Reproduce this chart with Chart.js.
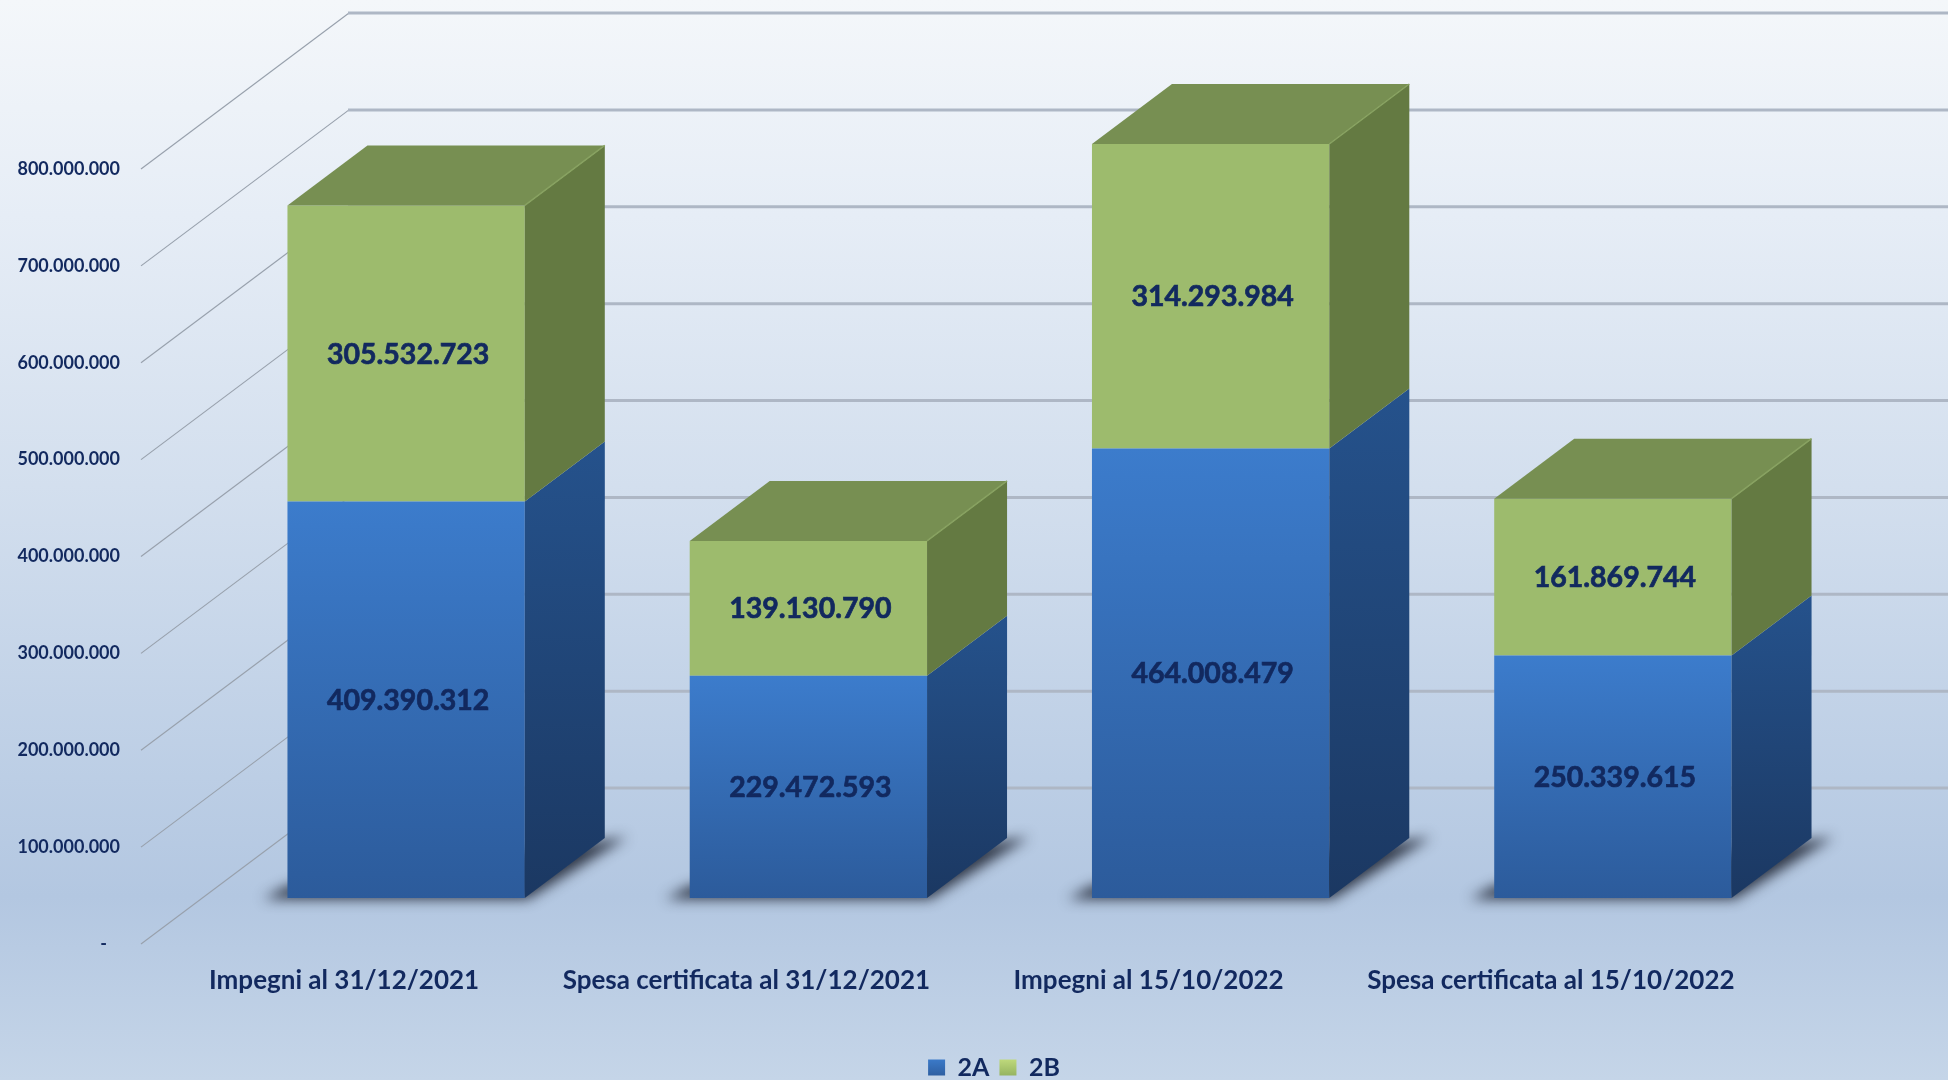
<!DOCTYPE html>
<html>
<head>
<meta charset="utf-8">
<title>Impegni e spesa certificata</title>
<script src="https://cdn.jsdelivr.net/npm/chart.js@4"></script>
<style>
html, body { margin: 0; padding: 0; width: 1948px; height: 1080px; overflow: hidden; }
body { background: linear-gradient(180deg, #f4f7fa 0%, #e6edf6 20%, #d3dfee 45%, #bccee5 72%, #b3c7e1 83%, #c5d5e8 100%); }
canvas { display: block; }
</style>
</head>
<body>
<canvas id="chart" width="1948" height="1080"></canvas>
<script>
const categories = ["Impegni al 31/12/2021", "Spesa certificata al 31/12/2021", "Impegni al 15/10/2022", "Spesa certificata al 15/10/2022"];
const series2A = [409390312, 229472593, 464008479, 250339615];
const series2B = [305532723, 139130790, 314293984, 161869744];
const seriesNames = ["2A", "2B"];
const axisMax = 800000000;
const axisStep = 100000000;

const navy = "#12295f";
const font = "Lato, Carlito, sans-serif";

// fake 3d: wall depth for the grid, bar depth and where the bars stand on the floor
const wallDepth = { x: 206, y: 156 };
const barDepth = { x: 80, y: 60 };
const barShift = { x: 62, y: -46 };

function dotted(v) {
    return String(Math.round(v)).replace(/\B(?=(\d{3})+$)/g, ".");
}

function verticalGradient(c, y0, y1, top, bottom) {
    let g = c.createLinearGradient(0, y0, 0, y1);
    g.addColorStop(0, top);
    g.addColorStop(1, bottom);
    return g;
}

function blueFront(context) {
    let chart = context.chart;
    if (!chart.chartArea || context.dataIndex === undefined) return "#3a78c8";
    let y = chart.scales.y;
    return verticalGradient(chart.ctx, y.getPixelForValue(series2A[context.dataIndex]), y.getPixelForValue(0), "#3c7ccc", "#2c5b9b");
}

function parallelogram(c, x0, y0, x1, y1, x2, y2, x3, y3, fill) {
    c.beginPath();
    c.moveTo(x0, y0);
    c.lineTo(x1, y1);
    c.lineTo(x2, y2);
    c.lineTo(x3, y3);
    c.closePath();
    c.fillStyle = fill;
    c.fill();
}

const wallPlugin = {
    id: "wall",
    afterLayout(chart) {
        // legend sits right of the page centre in the original
        chart.legend.left = 40;
        chart.legend.right = 1948;
        chart.legend.top += 10;
        chart.legend.bottom += 10;
    },
    beforeDatasetsDraw(chart) {
        let c = chart.ctx;
        let y = chart.scales.y;
        let left = chart.chartArea.left;
        c.save();
        y.ticks.forEach(function (t) {
            let py = y.getPixelForValue(t.value);
            c.strokeStyle = "#98a1ad";
            c.lineWidth = 1.2;
            c.beginPath();
            c.moveTo(left - 2, py);
            c.lineTo(left + wallDepth.x, py - wallDepth.y);
            c.stroke();
            c.strokeStyle = "#aeb7c5";
            c.lineWidth = 3;
            c.beginPath();
            c.moveTo(left + wallDepth.x - 1, py - wallDepth.y);
            c.lineTo(chart.width, py - wallDepth.y);
            c.stroke();
        });
        c.restore();

        // floor shadow: shape kept off canvas so only its blur lands on the floor
        c.save();
        c.translate(barShift.x - 3000, barShift.y);
        c.shadowColor = "rgba(25,30,45,0.85)";
        c.shadowBlur = 13;
        c.shadowOffsetX = 3000;
        chart.getDatasetMeta(0).data.forEach(function (bar) {
            let l = bar.x - bar.width / 2;
            let r = bar.x + bar.width / 2;
            let b = bar.base;
            parallelogram(c, l - 24, b + 1, r + 3, b + 1, r + barDepth.x + 22, b - barDepth.y - 1, l, b - 12, "#000");
        });
        c.restore();

        c.save();
        c.translate(barShift.x, barShift.y);
    },
    afterDatasetsDraw(chart) {
        let c = chart.ctx;
        let blue = chart.getDatasetMeta(0).data;
        let green = chart.getDatasetMeta(1).data;
        blue.forEach(function (a, i) {
            let b = green[i];
            let r = a.x + a.width / 2;
            let l = a.x - a.width / 2;
            let dx = barDepth.x;
            let dy = barDepth.y;
            parallelogram(c, r, a.base, r, a.y, r + dx, a.y - dy, r + dx, a.base - dy,
                verticalGradient(c, a.y - dy, a.base, "#25528c", "#1b3862"));
            parallelogram(c, r, a.y, r, b.y, r + dx, b.y - dy, r + dx, a.y - dy, "#647a42");
            parallelogram(c, l, b.y, r, b.y, r + dx, b.y - dy, l + dx, b.y - dy, "#778f52");
            c.strokeStyle = "#88a261";
            c.lineWidth = 1.5;
            c.beginPath();
            c.moveTo(r, b.y);
            c.lineTo(r + dx, b.y - dy);
            c.stroke();

            c.fillStyle = navy;
            c.strokeStyle = navy;
            c.lineWidth = 0.7;
            c.font = "bold 28.5px " + font;
            c.textAlign = "center";
            c.textBaseline = "middle";
            c.fillText(dotted(series2A[i]), a.x + 2, (a.y + a.base) / 2 + 1);
            c.strokeText(dotted(series2A[i]), a.x + 2, (a.y + a.base) / 2 + 1);
            c.fillText(dotted(series2B[i]), b.x + 2, (b.y + b.base) / 2 + 1);
            c.strokeText(dotted(series2B[i]), b.x + 2, (b.y + b.base) / 2 + 1);
        });
        c.restore();
    }
};

new Chart(document.getElementById("chart"), {
    type: "bar",
    data: {
        labels: categories,
        datasets: [
            { label: seriesNames[0], data: series2A, backgroundColor: blueFront, clip: false },
            { label: seriesNames[1], data: series2B, backgroundColor: "#9dbb6d", clip: false }
        ]
    },
    options: {
        responsive: false,
        animation: false,
        layout: { padding: { top: 169, left: 0, right: 196, bottom: 0 } },
        datasets: { bar: { categoryPercentage: 1, barPercentage: 0.59 } },
        scales: {
            x: {
                stacked: true,
                grid: { display: false },
                border: { display: false },
                ticks: {
                    color: navy,
                    padding: 13,
                    maxRotation: 0,
                    font: { family: font, weight: "bold", size: 26 }
                },
                afterFit(s) { s.height = 91; }
            },
            y: {
                stacked: true,
                min: 0,
                max: axisMax,
                grid: { display: false },
                border: { display: false },
                ticks: {
                    stepSize: axisStep,
                    color: navy,
                    padding: 15,
                    font: { family: font, weight: "bold", size: 18 },
                    callback: function (v) { return v === 0 ? "-   " : dotted(v); }
                },
                afterFit(s) { s.width = 143; }
            }
        },
        plugins: {
            tooltip: { enabled: false },
            legend: {
                position: "bottom",
                labels: {
                    color: navy,
                    boxWidth: 17,
                    boxHeight: 16,
                    padding: 10,
                    font: { family: font, weight: "bold", size: 25 },
                    generateLabels(chart) {
                        let c = chart.ctx;
                        return [
                            { text: seriesNames[0], fillStyle: verticalGradient(c, 1058, 1078, "#3c7ccc", "#2c5b9b"), strokeStyle: "transparent", lineWidth: 0, fontColor: navy, datasetIndex: 0 },
                            { text: seriesNames[1], fillStyle: verticalGradient(c, 1058, 1078, "#c2dc7e", "#8fae5c"), strokeStyle: "transparent", lineWidth: 0, fontColor: navy, datasetIndex: 1 }
                        ];
                    }
                }
            }
        }
    },
    plugins: [wallPlugin]
});
</script>
</body>
</html>
